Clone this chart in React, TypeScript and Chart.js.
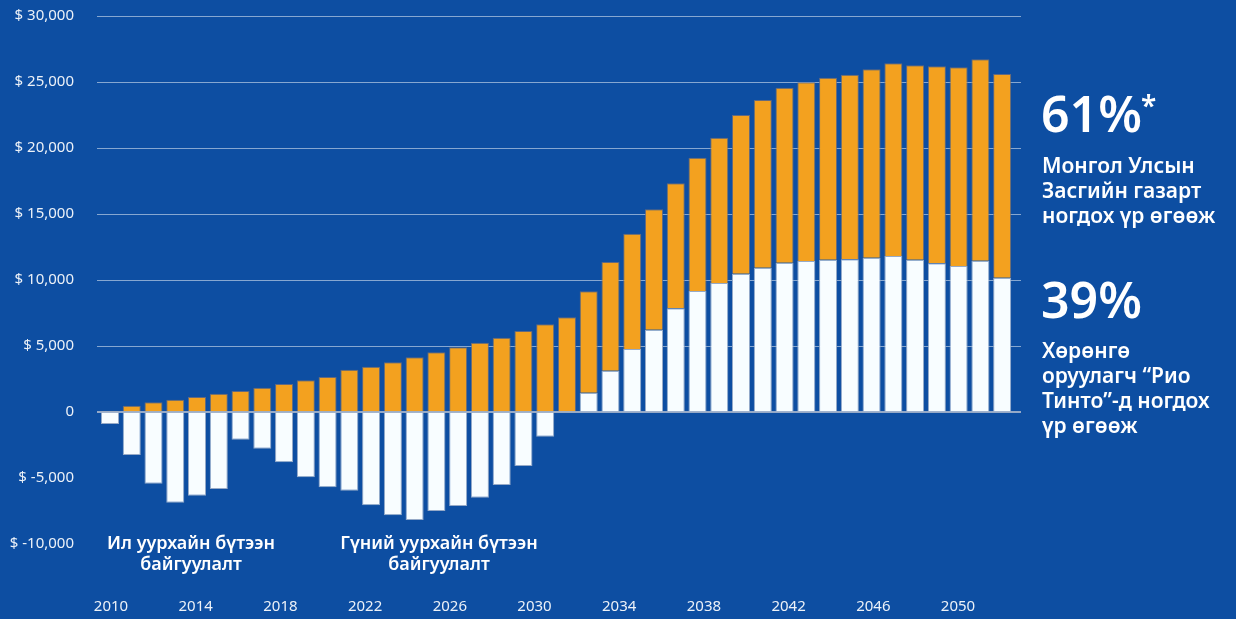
import React, { useEffect, useRef } from "react";
import { Chart, registerables } from "chart.js";

Chart.register(...registerables);

// Years (one bar per year)
const years = [
  2010, 2011, 2012, 2013, 2014, 2015, 2016, 2017, 2018, 2019,
  2020, 2021, 2022, 2023, 2024, 2025, 2026, 2027, 2028, 2029,
  2030, 2031, 2032, 2033, 2034, 2035, 2036, 2037, 2038, 2039,
  2040, 2041, 2042, 2043, 2044, 2045, 2046, 2047, 2048, 2049,
  2050, 2051,
];

// Rio Tinto share (white bars), USD millions
const rioShare = [
  -910, -3260, -5430, -6870, -6340, -5830, -2100, -2780, -3810, -4950,
  -5710, -5960, -7070, -7830, -8180, -7500, -7120, -6490, -5530, -4090,
  -1870, 0, 1460, 3130, 4770, 6230, 7860, 9170, 9770, 10480,
  10930, 11310, 11440, 11540, 11570, 11690, 11820, 11540, 11270, 11060,
  11460, 10170,
];

// Government of Mongolia share (orange bars, stacked on top)
const govShare = [
  80, 480, 730, 930, 1140, 1390, 1590, 1840, 2120, 2400,
  2650, 3200, 3430, 3770, 4140, 4520, 4900, 5250, 5630, 6140,
  6640, 7170, 7680, 8230, 8740, 9130, 9470, 10100, 11010, 12020,
  12710, 13260, 13540, 13790, 13980, 14270, 14600, 14730, 14920, 15050,
  15260, 15440,
];

const labelYears = [2010, 2014, 2018, 2022, 2026, 2030, 2034, 2038, 2042, 2046, 2050];
const yTicks = [-10000, -5000, 0, 5000, 10000, 15000, 20000, 25000, 30000];

const BG = "#0d4ea2";
const ORANGE = "#f3a11f";
const WHITE = "#f8fdff";
const FONT = "'Noto Sans', 'DejaVu Sans', sans-serif";

const zeroLinePlugin = {
  id: "zeroLine",
  afterDatasetsDraw(chart: any) {
    const y = chart.scales.y.getPixelForValue(0);
    const { left, right } = chart.chartArea;
    const ctx = chart.ctx;
    ctx.save();
    ctx.strokeStyle = "#c3c8d3";
    ctx.lineWidth = 1.5;
    ctx.beginPath();
    ctx.moveTo(left, y);
    ctx.lineTo(right, y);
    ctx.stroke();
    ctx.restore();
  },
};

export default function App() {
  const canvasRef = useRef<HTMLCanvasElement | null>(null);

  useEffect(() => {
    if (!canvasRef.current) return;
    const chart = new Chart(canvasRef.current, {
      type: "bar",
      data: {
        datasets: [
          {
            label: "Rio Tinto",
            data: years.map((yr, i) => ({ x: yr, y: rioShare[i] })),
            backgroundColor: WHITE,
            borderColor: "rgba(150,170,200,1)",
            borderWidth: 1,
            barPercentage: 0.83,
            categoryPercentage: 1,
            xAxisID: "x",
          },
          {
            label: "Mongolia",
            data: years.map((yr, i) => ({ x: yr, y: govShare[i] })),
            backgroundColor: ORANGE,
            borderColor: "rgba(115,110,120,0.85)",
            borderWidth: 1,
            barPercentage: 0.83,
            categoryPercentage: 1,
            xAxisID: "x",
          },
        ],
      },
      options: {
        animation: false,
        responsive: true,
        maintainAspectRatio: false,
        layout: { autoPadding: false, padding: { top: 16, right: 215, bottom: 0, left: 0 } },
        plugins: { legend: { display: false }, tooltip: { enabled: false } },
        scales: {
          x: {
            type: "linear",
            display: false,
            stacked: true,
            offset: false,
            min: 2009.403,
            max: 2051.866,
          },
          x2: {
            type: "linear",
            axis: "x",
            position: "bottom",
            offset: false,
            min: 2009.339,
            max: 2052.975,
            grid: { display: false, drawTicks: false, offset: false },
            border: { display: false },
            afterBuildTicks: (axis: any) => {
              axis.ticks = labelYears.map((v) => ({ value: v }));
            },
            afterFit: (axis: any) => {
              axis.height = 75;
              axis.paddingLeft = 0;
              axis.paddingRight = 0;
              axis.paddingTop = 0;
              axis.paddingBottom = 0;
            },
            ticks: {
              padding: 54,
              maxRotation: 0,
              autoSkip: false,
              color: "rgba(255,255,255,0.92)",
              font: { family: FONT, size: 15 },
              callback: (v: any) => String(v),
            },
          },
          y: {
            type: "linear",
            stacked: true,
            min: -10000,
            max: 30000,
            afterBuildTicks: (axis: any) => {
              axis.ticks = yTicks.map((v) => ({ value: v }));
            },
            afterFit: (axis: any) => {
              axis.width = 97;
              axis.paddingTop = 0;
              axis.paddingBottom = 0;
              axis.paddingLeft = 0;
              axis.paddingRight = 0;
            },
            border: { display: false },
            grid: {
              drawTicks: false,
              color: (ctx: any) =>
                ctx.tick && ctx.tick.value > 0 ? "rgba(255,255,255,0.5)" : "rgba(0,0,0,0)",
              lineWidth: 1,
            },
            ticks: {
              padding: 23,
              color: "rgba(255,255,255,0.92)",
              font: { family: FONT, size: 15 },
              callback: (v: any) =>
                v === 0 ? "0" : "$ " + Number(v).toLocaleString("en-US"),
            },
          },
        },
      },
      plugins: [zeroLinePlugin],
    });
    return () => chart.destroy();
  }, []);

  const txt: React.CSSProperties = {
    position: "absolute",
    color: "#ffffff",
    fontFamily: FONT,
    whiteSpace: "nowrap",
  };

  return (
    <div
      style={{
        position: "fixed",
        left: 0,
        top: 0,
        width: 1236,
        height: 619,
        background: BG,
        overflow: "hidden",
      }}
    >
      <div style={{ position: "absolute", left: 0, top: 0, width: 1236, height: 619 }}>
        <canvas ref={canvasRef} />
      </div>

      <div style={{ ...txt, left: 41, top: 532, width: 300, textAlign: "center", fontSize: 18, lineHeight: "21px", fontWeight: 600 }}>
        Ил уурхайн бүтээн
        <br />
        байгуулалт
      </div>
      <div style={{ ...txt, left: 289, top: 532, width: 300, textAlign: "center", fontSize: 18, lineHeight: "21px", fontWeight: 600 }}>
        Гүний уурхайн бүтээн
        <br />
        байгуулалт
      </div>

      <div style={{ ...txt, left: 1041, top: 88, fontSize: 50, lineHeight: "50px", fontWeight: 600 }}>61%</div>
      <div style={{ ...txt, left: 1141, top: 91, fontSize: 28, lineHeight: "28px", fontWeight: 600 }}>*</div>
      <div style={{ ...txt, left: 1042, top: 153, fontSize: 21, lineHeight: "25px", fontWeight: 600 }}>
        Монгол Улсын
        <br />
        Засгийн газарт
        <br />
        ногдох үр өгөөж
      </div>

      <div style={{ ...txt, left: 1041, top: 274, fontSize: 50, lineHeight: "50px", fontWeight: 600 }}>39%</div>
      <div style={{ ...txt, left: 1042, top: 338, fontSize: 21, lineHeight: "25px", fontWeight: 600 }}>
        Хөрөнгө
        <br />
        оруулагч “Рио
        <br />
        Тинто”-д ногдох
        <br />
        үр өгөөж
      </div>
    </div>
  );
}
